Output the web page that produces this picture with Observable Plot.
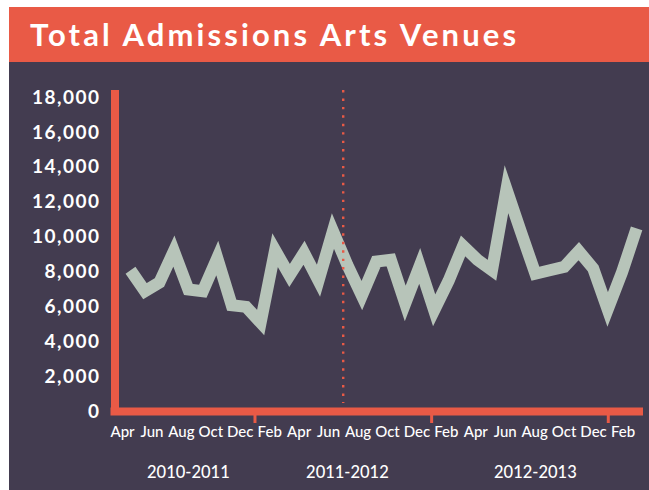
<!DOCTYPE html>
<html>
<head>
<meta charset="utf-8">
<script src="https://cdn.jsdelivr.net/npm/d3@7"></script>
<script src="https://cdn.jsdelivr.net/npm/@observablehq/plot@0.6"></script>
<style>
  html, body { margin: 0; padding: 0; background: #ffffff; }
  #wrap { position: absolute; left: 9px; top: 7px; width: 640px; }
  #title {
    height: 55px; box-sizing: border-box; background: #E95A46; color: #ffffff;
    font-family: Lato, sans-serif; font-weight: 700; font-size: 31px; line-height: 31px;
    padding: 11.5px 0 0 21px; letter-spacing: 3.1px; white-space: nowrap;
  }
  #chart svg { display: block; }
  g[aria-label="y-axis tick label"] text { letter-spacing: 1.5px; }
</style>
</head>
<body>
<div id="wrap">
  <div id="title">Total Admissions Arts Venues</div>
  <div id="chart"></div>
</div>
<script>
// ---- data ----
const monthNames = ["Apr","May","Jun","Jul","Aug","Sep","Oct","Nov","Dec","Jan","Feb","Mar",
                    "Apr","May","Jun","Jul","Aug","Sep","Oct","Nov","Dec","Jan","Feb","Mar",
                    "Apr","May","Jun","Jul","Aug","Sep","Oct","Nov","Dec","Jan","Feb","Mar"];
const admissions = [8100, 6900, 7400, 9200, 7000, 6900, 8800, 6100, 6000, 5100, 9250, 7800,
                    9100, 7500, 10350, 8400, 6650, 8600, 8700, 6200, 8350, 5800, 7500, 9500,
                    8700, 8100, 12750, 10300, 7900, 8100, 8300, 9200, 8200, 5850, 8000, 10500];
const tickMonths = ["Apr","Jun","Aug","Oct","Dec","Feb","Apr","Jun","Aug","Oct","Dec","Feb",
                    "Apr","Jun","Aug","Oct","Dec","Feb"];
const yearLabels = ["2010-2011","2011-2012","2012-2013"];
const yearLabelMonth = [4, 15, 28];
const yearTickMonth = [9, 21, 33];      // Januaries: year boundaries
const yTicks = [0, 2000, 4000, 6000, 8000, 10000, 12000, 14000, 16000, 18000];
const dividerMonth = 14.71;

// ---- layout / style ----
const orange = "#E95A46";
const dark = "#433C50";
const lineColor = "#B7C4B9";
const xMin = -1.072, xMax = 35.2, yTop = 18180;
const labelOrigin = -0.553, labelStep = 1.018;  // axis labels sit on a slightly wider grid
const labelX = i => labelOrigin + labelStep * i;

const table = admissions.map((v, i) => ({i, month: monthNames[i], v}));

const chart = Plot.plot({
  width: 640, height: 428,
  marginLeft: 105.5, marginRight: 10, marginTop: 32, marginBottom: 79,
  x: {domain: [xMin, xMax], axis: null},
  y: {domain: [0, yTop], axis: null},
  style: {background: dark, color: "#ffffff", fontFamily: "Lato, sans-serif", overflow: "visible"},
  marks: [
    Plot.line(table, {x: "i", y: "v", stroke: lineColor, strokeWidth: 12,
      strokeLinejoin: "miter", strokeMiterlimit: 12, strokeLinecap: "butt"}),
    Plot.ruleX([dividerMonth], {y1: 18406, y2: 460, stroke: orange, strokeWidth: 2.4,
      strokeDasharray: "2.4 6.03"}),
    Plot.ruleX(yearTickMonth.map(labelX), {y1: 0, y2: -690, stroke: orange, strokeWidth: 3}),
    Plot.ruleY([0], {stroke: orange, strokeWidth: 8, strokeLinecap: "square"}),
    Plot.ruleX([xMin], {stroke: orange, strokeWidth: 8, strokeLinecap: "square"}),
    Plot.axisY({ticks: yTicks, anchor: "left", tickSize: 0, tickPadding: 14.5,
      tickFormat: d3.format(","), fontSize: 19, fontWeight: 700, label: null}),
    Plot.text(tickMonths, {x: (d, k) => labelX(2 * k), text: d => d, frameAnchor: "bottom",
      lineAnchor: "bottom", dy: 25.5, fontSize: 15, fontWeight: 500, fill: "#ffffff"}),
    Plot.text(yearLabels, {x: (d, k) => yearLabelMonth[k], text: d => d, frameAnchor: "bottom",
      lineAnchor: "bottom", dy: 66, fontSize: 16.5, fontWeight: 500, fill: "#ffffff"})
  ]
});
document.getElementById("chart").appendChild(chart);
</script>
</body>
</html>
